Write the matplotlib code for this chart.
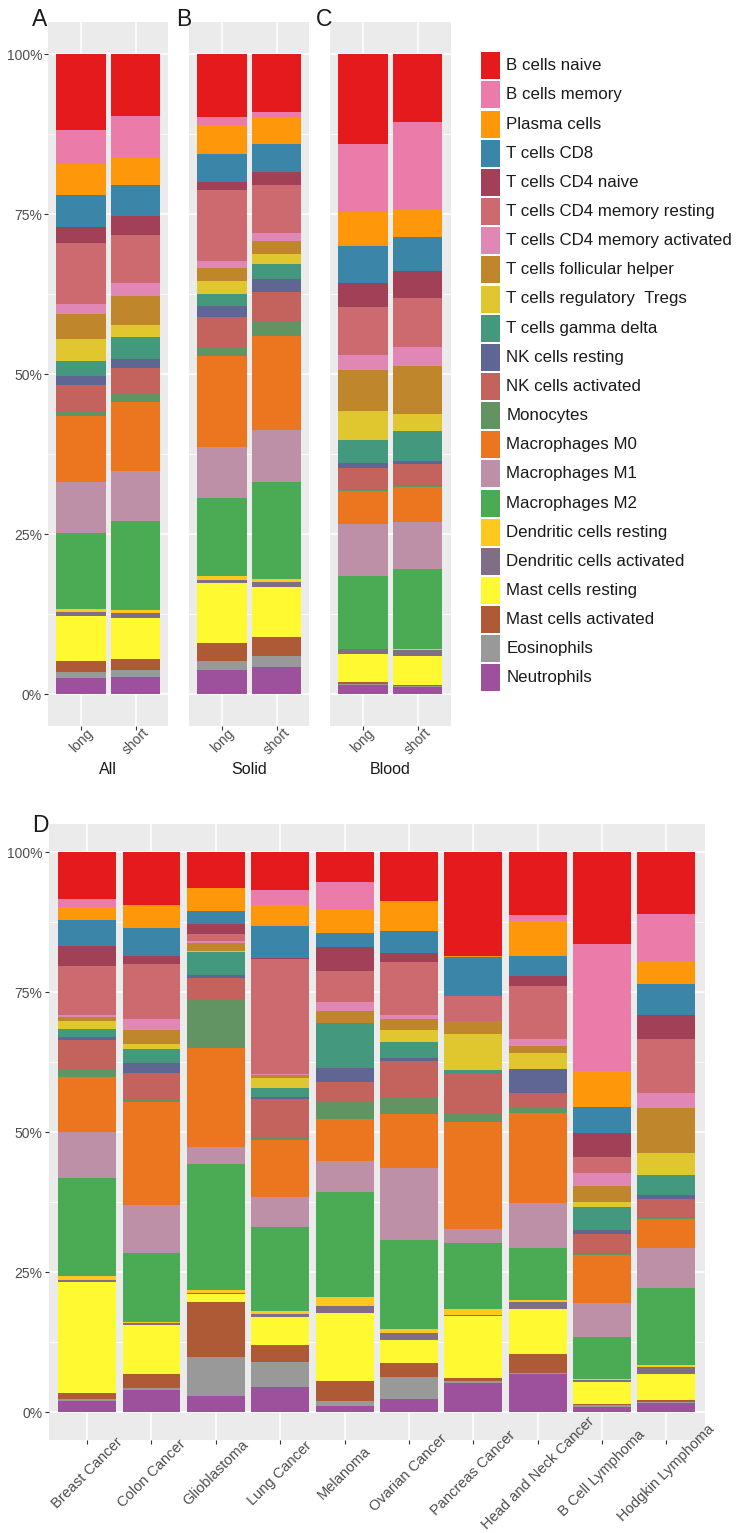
import numpy as np
import matplotlib
matplotlib.use("Agg")
import matplotlib.pyplot as plt
from matplotlib.patches import Rectangle
from matplotlib.colors import to_rgb, to_hex

plt.rcParams['font.family'] = ['Liberation Sans', 'DejaVu Sans']

# ---------------- data ----------------
cell_types = [
    "B cells naive", "B cells memory", "Plasma cells", "T cells CD8",
    "T cells CD4 naive", "T cells CD4 memory resting",
    "T cells CD4 memory activated", "T cells follicular helper",
    "T cells regulatory  Tregs", "T cells gamma delta", "NK cells resting",
    "NK cells activated", "Monocytes", "Macrophages M0", "Macrophages M1",
    "Macrophages M2", "Dendritic cells resting", "Dendritic cells activated",
    "Mast cells resting", "Mast cells activated", "Eosinophils", "Neutrophils",
]

group_labels = ["long", "short"]
panel_titles = ["All", "Solid", "Blood"]

all_long = [11.8, 5.3, 4.9, 4.9, 2.5, 9.6, 1.6, 3.9, 3.3, 2.4, 1.4, 4.1, 0.8, 10.2, 8.0, 11.8, 0.5, 0.6, 7.1, 1.7, 0.9, 2.5]
all_short = [9.7, 6.5, 4.2, 4.8, 3.0, 7.5, 2.1, 4.4, 2.0, 3.3, 1.4, 4.1, 1.3, 10.7, 7.8, 13.9, 0.4, 0.8, 6.4, 1.7, 1.1, 2.7]
solid_long = [9.9, 1.2, 4.6, 4.3, 1.3, 11.1, 1.1, 2.0, 2.0, 1.9, 1.8, 4.8, 1.2, 14.3, 7.9, 12.3, 0.5, 0.6, 9.4, 2.8, 1.3, 3.8]
solid_short = [9.0, 0.8, 4.2, 4.4, 2.1, 7.5, 1.3, 2.0, 1.5, 2.4, 2.0, 4.5, 2.4, 14.7, 8.2, 15.1, 0.5, 0.7, 7.9, 2.9, 1.7, 4.3]
blood_long = [14.1, 10.6, 5.3, 5.8, 3.8, 7.5, 2.3, 6.4, 4.6, 3.5, 0.8, 3.5, 0.2, 5.1, 8.1, 11.4, 0.1, 0.8, 4.3, 0.3, 0.2, 1.4]
blood_short = [10.7, 13.8, 4.1, 5.4, 4.2, 7.7, 2.9, 7.6, 2.7, 4.6, 0.5, 3.4, 0.2, 5.5, 7.3, 12.5, 0.2, 0.9, 4.6, 0.15, 0.15, 1.1]

cancer_types = ["Breast Cancer", "Colon Cancer", "Glioblastoma", "Lung Cancer",
                "Melanoma", "Ovarian Cancer", "Pancreas Cancer",
                "Head and Neck Cancer", "B Cell Lymphoma", "Hodgkin Lymphoma"]

breast = [8.4, 1.4, 2.4, 4.6, 3.6, 8.7, 0.3, 0.75, 1.4, 1.4, 0.5, 5.3, 1.3, 9.9, 8.2, 17.4, 0.75, 0.35, 19.9, 1.1, 0.35, 1.9]
colon = [9.4, 0.3, 3.8, 5.0, 1.4, 9.9, 1.9, 2.5, 1.0, 2.5, 1.7, 4.9, 0.3, 18.3, 8.7, 12.2, 0.3, 0.3, 8.7, 2.5, 0.3, 4.0]
glioblastoma = [6.5, 0.0, 4.1, 2.3, 1.7, 1.3, 0.3, 1.4, 0.3, 4.1, 0.5, 3.8, 8.7, 17.6, 3.1, 22.4, 0.6, 0.2, 1.3, 9.8, 7.0, 2.9]
lung = [6.7, 2.7, 3.8, 5.7, 0.1, 20.6, 0.1, 0.6, 1.7, 1.7, 0.2, 6.8, 0.5, 10.3, 5.3, 15.0, 0.5, 0.5, 4.9, 3.1, 4.5, 4.4]
melanoma = [5.4, 4.8, 4.2, 2.5, 4.3, 5.6, 1.6, 2.1, 0.1, 8.0, 2.5, 3.5, 3.2, 7.5, 5.5, 18.7, 1.7, 1.2, 12.2, 3.6, 0.9, 1.0]
ovarian = [8.8, 0.1, 5.2, 3.9, 1.6, 9.5, 0.7, 2.1, 2.1, 2.8, 0.5, 6.5, 3.1, 9.6, 12.9, 15.9, 0.75, 1.3, 4.0, 2.5, 4.0, 2.3]
pancreas = [18.5, 0.0, 0.3, 6.8, 0.1, 4.4, 0.1, 2.3, 6.4, 0.7, 0.0, 7.1, 1.5, 19.1, 2.5, 11.8, 1.0, 0.1, 11.1, 0.5, 0.4, 5.2]
head_neck = [11.2, 1.1, 6.3, 3.5, 1.8, 9.4, 1.2, 1.4, 2.7, 0.1, 4.3, 2.5, 1.0, 16.1, 7.9, 9.4, 0.3, 1.2, 8.1, 3.3, 0.2, 6.8]
b_lymphoma = [16.5, 22.6, 6.6, 4.6, 4.3, 2.9, 2.3, 2.9, 0.75, 4.2, 0.7, 3.6, 0.2, 8.5, 6.2, 7.5, 0.15, 0.3, 4.0, 0.2, 0.3, 0.9]
hodgkin = [11.1, 8.5, 4.0, 5.5, 4.3, 9.6, 2.6, 8.1, 4.0, 3.5, 0.7, 3.4, 0.2, 5.1, 7.1, 13.9, 0.2, 1.4, 4.6, 0.3, 0.2, 1.6]

# ---------------- colours (Set1 ramp, 22 steps) ----------------
set1 = ["#E41A1C", "#377EB8", "#4DAF4A", "#984EA3", "#FF7F00",
        "#FFFF33", "#A65628", "#F781BF", "#999999"]
ramp_index = [0, 18, 11, 3, 1, 17, 19, 15, 14, 4, 2, 9, 6, 10, 20, 5, 12, 7, 13, 16, 21, 8]


def ramp(n):
    base = np.array([to_rgb(c) for c in set1])
    out = []
    for i in range(n):
        t = i * (len(set1) - 1) / (n - 1)
        k = min(int(np.floor(t)), len(set1) - 2)
        f = t - k
        out.append(to_hex(base[k] * (1 - f) + base[k + 1] * f))
    return out


ramp22 = ramp(22)
colors = [ramp22[i] for i in ramp_index]

# ---------------- figure ----------------
W, H = 739, 1533
fig = plt.figure(figsize=(W / 100, H / 100), dpi=100)
fig.patch.set_facecolor("white")


def px_axes(x0, y0, x1, y1):
    return fig.add_axes([x0 / W, 1 - y1 / H, (x1 - x0) / W, (y1 - y0) / H])


def style(ax, labels, show_y, labsize, label_center_px):
    n = len(labels)
    ax.set_facecolor("#EBEBEB")
    ax.set_xlim(0.4, n + 0.6)
    ax.set_ylim(-0.05, 1.05)
    ax.set_yticks([0, 0.25, 0.5, 0.75, 1.0])
    ax.set_yticks([0.125, 0.375, 0.625, 0.875], minor=True)
    ax.grid(which="major", color="white", lw=1.1)
    ax.grid(which="minor", axis="y", color="white", lw=0.55)
    ax.set_axisbelow(True)
    for s in ax.spines.values():
        s.set_visible(False)
    ax.tick_params(which="minor", length=0)
    ax.tick_params(which="major", length=3, width=0.8, color="#333333",
                   labelcolor="#4D4D4D", labelsize=10, pad=1.5)
    ax.set_xticks(range(1, n + 1))
    ax.set_xticklabels(labels, rotation=45, ha="center", va="center",
                       rotation_mode="anchor", fontsize=labsize)
    # centre of the rotated label sits label_center_px below the panel
    ax.tick_params(axis="x", pad=(label_center_px - 3) * 0.72)
    if show_y:
        ax.set_yticklabels(["0%", "25%", "50%", "75%", "100%"])
    else:
        ax.tick_params(axis="y", length=0, labelleft=False)


def draw_bars(ax, bars):
    for j, vals in enumerate(bars):
        v = np.array(vals, dtype=float)
        v = v / v.sum()
        bottom = 0.0
        for k in range(len(v) - 1, -1, -1):
            ax.bar(j + 1, v[k], bottom=bottom, width=0.9, color=colors[k],
                   linewidth=0, zorder=2)
            bottom += v[k]


top_panels = [
    ((48.3, 168.3), [all_long, all_short], True),
    ((189.3, 309.3), [solid_long, solid_short], False),
    ((330.0, 450.7), [blood_long, blood_short], False),
]
for (x0, x1), bars, showy in top_panels:
    ax = px_axes(x0, 22, x1, 726)
    style(ax, group_labels, showy, 10, 14)
    draw_bars(ax, bars)

for (x0, x1), title in zip([p[0] for p in top_panels], panel_titles):
    fig.text((x0 + x1) / 2 / W, 1 - 769 / H, title, ha="center", va="center",
             fontsize=11.5, color="#1A1A1A")

axd = px_axes(48.5, 824, 705, 1440)
style(axd, cancer_types, True, 10.5, 32)
draw_bars(axd, [breast, colon, glioblastoma, lung, melanoma, ovarian,
                pancreas, head_neck, b_lymphoma, hodgkin])

# panel letters
for lab, x, y in [("A", 31.5, 26), ("B", 176.5, 26), ("C", 316, 26), ("D", 32, 832)]:
    fig.text(x / W, 1 - y / H, lab, ha="left", va="baseline", fontsize=16.5,
             color="#1A1A1A")

# legend
axl = fig.add_axes([0, 0, 1, 1], zorder=-1)
axl.set_xlim(0, W)
axl.set_ylim(H, 0)
axl.axis("off")
pitch = 29.15
for i, (name, c) in enumerate(zip(cell_types, colors)):
    ytop = 52.3 + i * pitch
    axl.add_patch(Rectangle((480.5, ytop), 19, 27, facecolor=c, edgecolor="none"))
    axl.text(506.5, ytop + 13.5, name, ha="left", va="center", fontsize=12.2,
             color="#1A1A1A")

fig.savefig("out.png", dpi=100, facecolor="white")
